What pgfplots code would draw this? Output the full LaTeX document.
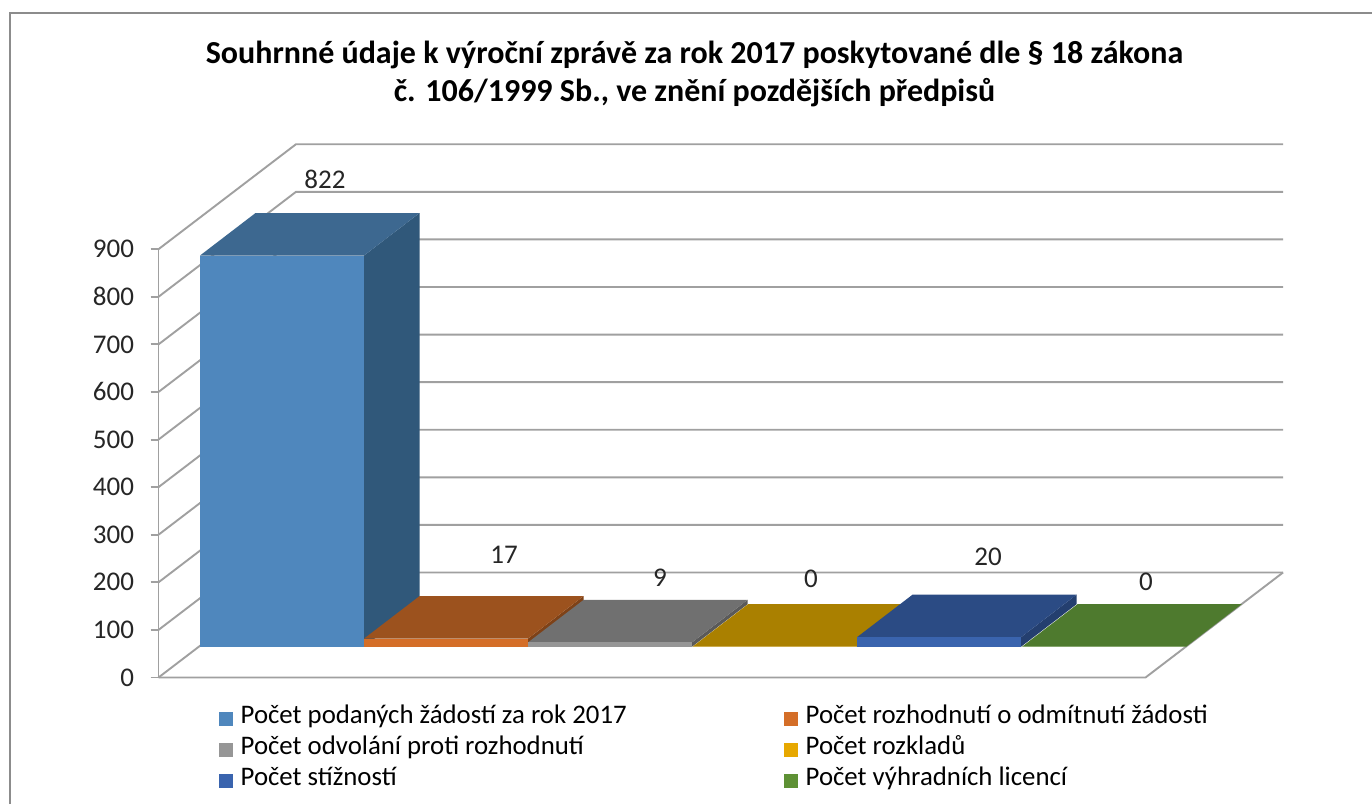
\documentclass[border=0pt]{standalone}
\usepackage{pgfplots}
\pgfplotsset{compat=1.18}
\usepackage{fontspec}
\setmainfont{Carlito}
\definecolor{gridc}{HTML}{A0A0A0}
\definecolor{af}{HTML}{4F87BD}\definecolor{at}{HTML}{3D6890}\definecolor{as}{HTML}{30587A}
\definecolor{bf}{HTML}{D46E28}\definecolor{bt}{HTML}{9C521E}\definecolor{bs}{HTML}{7E4218}
\definecolor{cf}{HTML}{969696}\definecolor{ct}{HTML}{707070}\definecolor{cs}{HTML}{5A5A5A}
\definecolor{df}{HTML}{E7A800}\definecolor{dt}{HTML}{AA8000}\definecolor{ds}{HTML}{8A6800}
\definecolor{ef}{HTML}{3A64AE}\definecolor{et}{HTML}{2B4B84}\definecolor{es}{HTML}{243F6F}
\definecolor{ff}{HTML}{5E9135}\definecolor{ft}{HTML}{4E7A2E}\definecolor{fs}{HTML}{3E6224}
\newcommand\drawbar[5]{%
  \pgfmathsetmacro\xa{#1}\pgfmathsetmacro\xb{#1+164}%
  \pgfmathsetmacro\xc{#1+55.5}\pgfmathsetmacro\xd{#1+219.5}%
  \pgfmathsetmacro\yb{64.7}\pgfmathsetmacro\ybb{64.7+89.3}%
  \pgfmathsetmacro\yt{64.7+#2}\pgfmathsetmacro\ytb{64.7+#2+89.3}%
  \addplot[forget plot,fill=#5,draw=none] coordinates {(\xb,\yb)(\xd,\ybb)(\xd,\ytb)(\xb,\yt)} -- cycle;
  \addplot[forget plot,fill=#4,draw=none] coordinates {(\xa,\yt)(\xb,\yt)(\xd,\ytb)(\xc,\ytb)} -- cycle;
  \addplot[forget plot,fill=#3,draw=none] coordinates {(\xa,\yb)(\xb,\yb)(\xb,\yt)(\xa,\yt)} -- cycle;
}
\newcommand\gridl[2]{%
  \addplot[forget plot,gridc,line width=1.9pt] coordinates {(158.5,#1)(296,#2)(1283,#2)};
}
\begin{document}
\begin{tikzpicture}
\path[use as bounding box] (0,0) rectangle (1372pt,804pt);
\fill[white] (0,0) rectangle (1372pt,804pt);
\draw[color=black!45,line width=1.2pt] (10pt,0) -- (10pt,791pt) -- (1372pt,791pt);
\begin{axis}[
  at={(158.5pt,126.5pt)},anchor=south west,
  scale only axis,width=1124.5pt,height=428.3pt,
  xmin=158.5,xmax=1283,ymin=0,ymax=900,
  enlargelimits=false,clip=false,
  axis y line*=left,axis x line=none,
  ytick={0,100,...,900},
  tick align=outside,major tick length=8pt,
  every tick/.style={gridc,line width=1.9pt},
  y axis line style={gridc,line width=1.9pt},
  /pgf/number format/assume math mode=true,
  yticklabel style={font=\fontsize{27}{30}\selectfont,color=black!85,anchor=east,xshift=-13pt},
  title={Souhrnné údaje k výroční zprávě za rok 2017 poskytované dle § 18 zákona\\č. 106/1999 Sb., ve znění pozdějších předpisů},
  title style={at={(axis cs:694.5,1255)},anchor=center,align=center,
    font=\fontsize{32}{38}\bfseries\selectfont,inner sep=0pt},
  legend columns=2,
  legend style={at={(axis cs:218.5,-55)},anchor=north west,draw=none,fill=none,inner sep=0pt,
    font=\fontsize{26.8}{30}\selectfont,
    nodes={inner sep=0pt,text height=20pt,text depth=11pt,anchor=west},
    /tikz/every even column/.append style={column sep=157pt}},
  legend cell align=left,
  legend image code/.code={\path[draw=none,fill=none] (0pt,0pt) rectangle (22pt,0.1pt);\fill[#1,draw=none] (0pt,-7pt) rectangle (14pt,7pt);},
]
\gridl{0}{220.6}
\gridl{100}{320.6}
\gridl{200}{420.6}
\gridl{300}{520.6}
\gridl{400}{620.6}
\gridl{500}{720.6}
\gridl{600}{820.6}
\gridl{700}{920.6}
\gridl{800}{1020.6}
\gridl{900}{1120.6}
\addplot[forget plot,gridc,line width=1.9pt] coordinates {(158.5,0)(1145.5,0)(1283,220.6)};
\drawbar{200}{822}{af}{at}{as}
\drawbar{364}{17}{bf}{bt}{bs}
\drawbar{528}{9}{cf}{ct}{cs}
\drawbar{692.5}{0}{df}{dt}{ds}
\drawbar{857}{20}{ef}{et}{es}
\drawbar{1022}{0}{ff}{ft}{fs}
\addplot[forget plot,only marks,mark=none,point meta=explicit symbolic,
  nodes near coords,
  every node near coord/.append style={anchor=center,inner sep=0pt,color=black!85,font=\fontsize{27}{30}\selectfont}]
  coordinates {(325,1047.5)[822] (504,257.4)[17] (660,209)[9] (811,207)[0] (988,253)[20] (1146,200.7)[0]};
\addlegendimage{fill=af}\addlegendentry{Počet podaných žádostí za rok 2017}
\addlegendimage{fill=bf}\addlegendentry{Počet rozhodnutí o odmítnutí žádosti}
\addlegendimage{fill=cf}\addlegendentry{Počet odvolání proti rozhodnutí}
\addlegendimage{fill=df}\addlegendentry{Počet rozkladů}
\addlegendimage{fill=ef}\addlegendentry{Počet stížností}
\addlegendimage{fill=ff}\addlegendentry{Počet výhradních licencí}
\end{axis}
\end{tikzpicture}
\end{document}
